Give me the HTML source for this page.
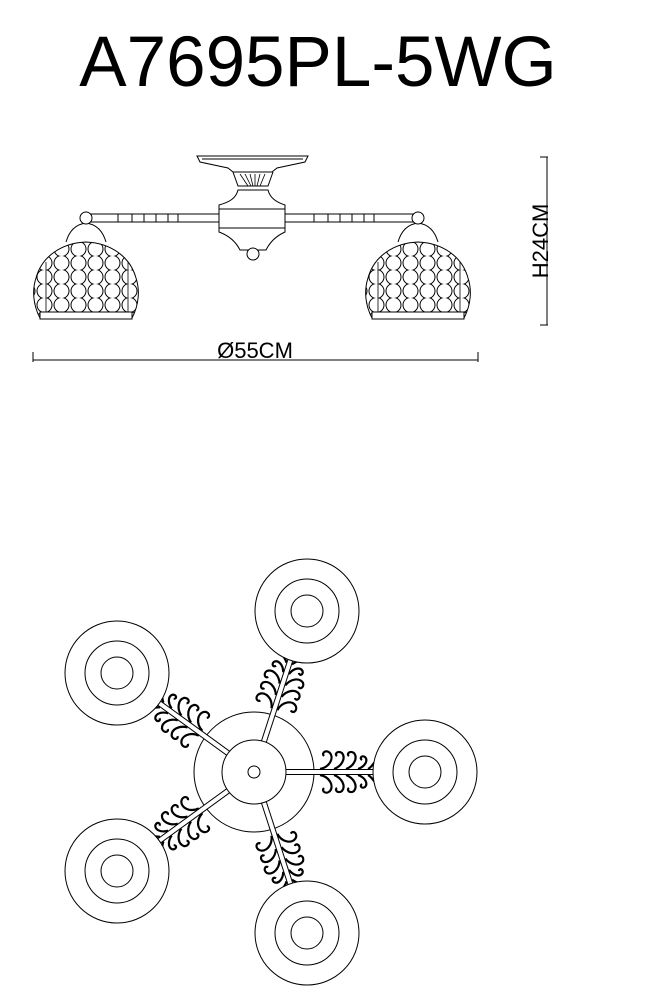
<!DOCTYPE html>
<html><head><meta charset="utf-8"><style>
html,body{margin:0;padding:0;background:#fff;}
body{width:646px;height:1000px;overflow:hidden;position:relative;font-family:"Liberation Sans",sans-serif;}
.t{position:absolute;left:0;width:636px;top:22px;text-align:center;font-size:71px;color:#000;letter-spacing:0px;}
</style></head><body>
<div class="t">A7695PL-5WG</div>
<svg width="646" height="1000" style="position:absolute;left:0;top:0" xmlns="http://www.w3.org/2000/svg">
<defs>
<pattern id="bub" x="2" y="4" width="17" height="14" patternUnits="userSpaceOnUse">
<circle cx="8.5" cy="7" r="7.5" fill="none" stroke="#000" stroke-width="1"/>
</pattern>
<g id="shade">
<path d="M66,242 C70,228 78,224 86,223 C94,224 102,228 106,242" fill="none" stroke="#000"/>
<circle cx="86" cy="218" r="6" fill="#fff" stroke="#000"/>
<path d="M40,318 C33,305 32,290 36,278 C42,256 62,243 86,242 C110,243 130,256 136,278 C140,290 139,305 132,318 Z" fill="url(#bub)" stroke="#000"/>
<rect x="40" y="312" width="92" height="7" fill="#fff" stroke="#000"/>
<path d="M46,312 L46,262 M128,312 L128,262" stroke="#000" fill="none" stroke-width="0.8"/>
</g>
<g id="scr" fill="none" stroke="#000" stroke-width="2.2">
<path d="M0,-3 C10,-5 14,-14 10,-19 C6,-23 1,-19 4,-16"/>
<path d="M14,-3 C22,-6 26,-14 22,-19 C18,-22 14,-18 17,-16"/>
<path d="M26,-3 C34,-6 38,-14 34,-19 C30,-22 26,-18 29,-16"/>
<path d="M38,-3 C46,-6 48,-12 45,-15 C42,-17 39,-14 42,-12"/>
<path d="M0,3 C10,5 14,14 10,19 C6,23 1,19 4,16"/>
<path d="M14,3 C22,6 26,14 22,19 C18,22 14,18 17,16"/>
<path d="M26,3 C34,6 38,14 34,19 C30,22 26,18 29,16"/>
<path d="M38,3 C46,6 48,12 45,15 C42,17 39,14 42,12"/>
<path d="M48,-3 C52,-5 54,-10 56,-11 M48,3 C52,5 54,10 56,11"/>
</g>
<g id="lamp" fill="#fff" stroke="#000" stroke-width="1">
<circle r="52"/><circle r="32" fill="none"/><circle r="16" fill="none"/>
</g>
<g id="arm">
<rect x="30" y="-2.5" width="110" height="5" fill="#fff" stroke="#000"/>
<use href="#scr" x="66"/>
</g>
</defs>

<!-- side view -->
<g stroke="#000" fill="#fff" stroke-width="1">
<rect x="82" y="214" width="140" height="8"/>
<rect x="284" y="214" width="138" height="8"/>
<path d="M118,214 v8 M132,214 v8 M144,214 v8 M156,214 v8 M168,214 v8 M178,214 v8 M314,214 v8 M328,214 v8 M340,214 v8 M352,214 v8 M364,214 v8 M374,214 v8" fill="none"/>
<path d="M197,156 L308,156 L305,162 L277,168 L272,172 L233,172 L228,168 L200,162 Z"/>
<path d="M202,159 L303,159" fill="none"/>
<path d="M233,172 L238,186 L268,186 L273,172" fill="none"/>
<path d="M240,174 L248,186 M245,174 L251,186 M250,174 L253,186 M255,174 L255,186 M260,174 L257,186 M265,174 L260,186" fill="none" stroke-width="0.8"/>
<path d="M238,190 L268,190 C270,198 276,202 285,205 L285,232 C276,236 270,242 266,250 L240,250 C236,242 230,236 219,232 L219,205 C230,202 236,198 238,190 Z"/>
<path d="M219,209 L285,209 M219,228 L285,228" fill="none"/>
<circle cx="253" cy="254" r="6"/>
</g>
<use href="#shade"/>
<use href="#shade" transform="translate(332,0)"/>

<!-- dimensions -->
<g stroke="#000" stroke-width="1" fill="none">
<path d="M33,360 L478,360 M33,352 L33,362 M478,352 L478,362"/>
<path d="M547,157 L547,325 M540,157 L548,157 M540,325 L548,325"/>
</g>
<text x="255" y="358" font-size="22" text-anchor="middle" font-family="Liberation Sans, sans-serif">Ø55CM</text>
<text x="0" y="0" font-size="22" text-anchor="middle" font-family="Liberation Sans, sans-serif" transform="translate(548,241) rotate(-90)">H24CM</text>

<!-- top view -->
<g transform="translate(254,772)">
<circle r="60" fill="#fff" stroke="#000"/>
<use href="#arm" transform="rotate(0)"/>
<use href="#arm" transform="rotate(-72)"/>
<use href="#arm" transform="rotate(-144)"/>
<use href="#arm" transform="rotate(144)"/>
<use href="#arm" transform="rotate(72)"/>
<circle r="32" fill="#fff" stroke="#000"/>
<circle r="6" fill="#fff" stroke="#000"/>
</g>
<use href="#lamp" x="307" y="611"/>
<use href="#lamp" x="117" y="673"/>
<use href="#lamp" x="425" y="772"/>
<use href="#lamp" x="117" y="871"/>
<use href="#lamp" x="307" y="933"/>
</svg>
</body></html>
